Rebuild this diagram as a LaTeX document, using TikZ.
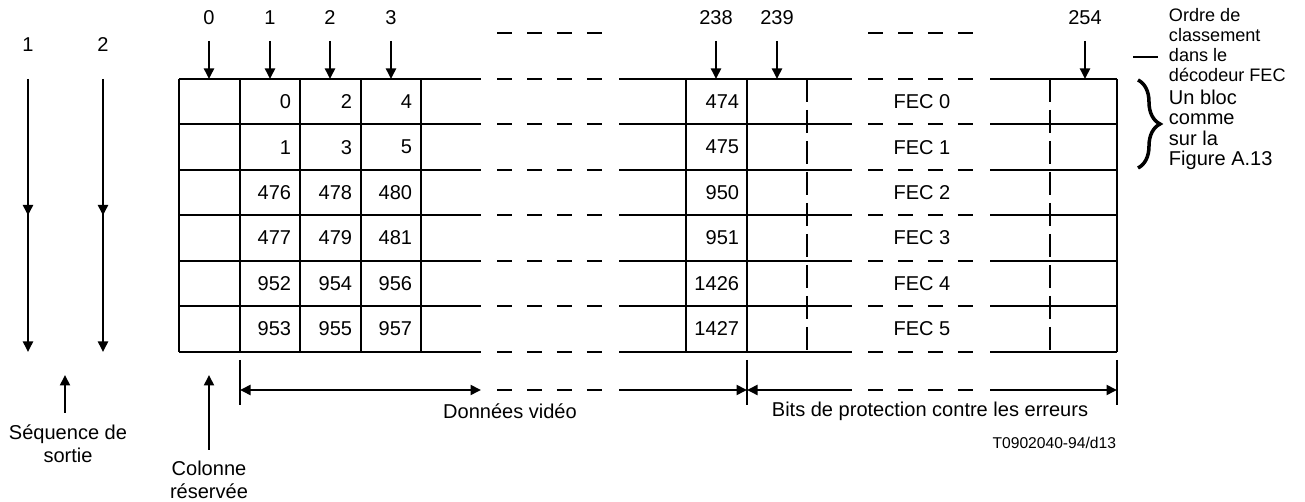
\documentclass[tikz,border=0pt]{standalone}
\usepackage{fontspec}
\setmainfont{Liberation Sans}
\usetikzlibrary{arrows.meta,positioning,decorations.markings,decorations.pathreplacing}
\tikzset{
  >={Triangle[length=2.1mm,width=2mm]},
  gapdash/.style={dash pattern=on 3mm off 3mm},
  coldash/.style={dash pattern=on 4.6mm off 1.6mm},
  lbl/.style={font=\fontsize{11.4}{13}\selectfont,inner sep=0pt},
  cellnum/.style={lbl,anchor=east},
  note/.style={font=\fontsize{10.3}{11.4}\selectfont,align=left,inner sep=0pt,anchor=west},
  code/.style={font=\fontsize{8.9}{10}\selectfont,inner sep=0pt,anchor=east},
  midarrow/.style={decoration={markings,mark=at position 0.5 with {\arrow{>}}},postaction={decorate}},
}
% one row line of the table, broken twice
\newcommand\brokenrow[1]{%
  \draw (179,#1) -- (481,#1);
  \draw[gapdash] (497,#1) -- (602,#1);
  \draw (619,#1) -- (852,#1);
  \draw[gapdash] (868,#1) -- (973,#1);
  \draw (990,#1) -- (1117,#1);
}

\begin{document}
\begin{tikzpicture}[x=0.02cm,y=-0.02cm,line width=1.1pt]
  \useasboundingbox (0,0) rectangle (1305,502);

  % table
  \foreach \k in {0,...,6} {
    \pgfmathsetmacro\yy{79+45.45*\k}
    \brokenrow{\yy}
  }
  \foreach \x in {179,240,300,361,421,686,747,1117}
    \draw (\x,79) -- (\x,351.7);
  \foreach \x in {807,1050}
    \draw[coldash] (\x,79) -- (\x,351.7);

  \foreach \a/\b/\c/\d [count=\r from 0] in {0/2/4/474,1/3/5/475,476/478/480/950,
      477/479/481/951,952/954/956/1426,953/955/957/1427} {
    \pgfmathsetmacro\yy{79+45.45*(\r+0.5)}
    \node[cellnum] (ca\r) at (292,\yy) {\a};
    \node[cellnum] (cb\r) at (353,\yy) {\b};
    \node[cellnum] (cc\r) at (413,\yy) {\c};
    \node[cellnum] (cd\r) at (740,\yy) {\d};
    \node[lbl] (fec\r) at (922,\yy) {FEC \r};
  }

  % column order arrows
  \foreach \lab/\x [count=\i] in {0/209,1/270,2/330,3/391,238/716,239/777,254/1085} {
    \node[lbl] (k\i) at (\x,18) {\lab};
    \coordinate (kup\i) at (\x,41);
    \coordinate (ktip\i) at (\x,79);
    \draw[->] (kup\i) -- (ktip\i);
  }
  \draw[gapdash] (497,33) -- (602,33);
  \draw[gapdash] (868,33) -- (973,33);

  % output sequence
  \foreach \lab/\x [count=\i] in {1/28,2/103} {
    \node[lbl] (s\i) at (\x,45) {\lab};
    \coordinate (stop\i) at (\x,79);
    \coordinate (sbot\i) at (\x,352);
    \draw[->,midarrow] (stop\i) -- (sbot\i);
  }
  \node[lbl,align=center] (seq) at (68,444) {Séquence de\\sortie};
  \coordinate (seqfoot) at (65,413);
  \coordinate (seqtip) at (65,375);
  \draw[->] (seqfoot) -- (seqtip);

  \node[lbl,align=center] (col) at (209,480) {Colonne\\réservée};
  \coordinate (colfoot) at (209,450);
  \coordinate (coltip) at (209,375);
  \draw[->] (colfoot) -- (coltip);

  % extents below the table
  \foreach \x [count=\i] in {240,747,1117} {
    \draw (\x,360) -- (\x,405);
    \coordinate (dm\i) at (\x,390);
  }
  \coordinate (dmv) at (481,390);
  \coordinate (dmb) at (852,390);
  \draw[<->] (dm1) -- (dmv);
  \draw[gapdash] (497,390) -- (602,390);
  \draw[->] (619,390) -- (dm2);
  \draw[<-] (dm2) -- (dmb);
  \draw[gapdash] (868,390) -- (973,390);
  \draw[->] (990,390) -- (dm3);
  \node[lbl] (video) at (510,411) {Données vidéo};
  \node[lbl] (prot) at (930,411) {Bits de protection contre les erreurs};
  \node[code] (ref) at (1117,443) {T0902040-94/d13};

  % notes on the right
  \node[note] (ordre) at (1168,45) {Ordre de\\classement\\dans le\\décodeur FEC};
  \coordinate (lead1) at (1133,57);
  \coordinate (lead2) at (1158,57);
  \draw (lead1) -- (lead2);
  \coordinate (br1) at (1138,80);
  \coordinate (br2) at (1138,168);
  \draw[decorate,decoration={brace,amplitude=4.4mm},line width=2pt] (br1) -- (br2);
  \node[note,font=\fontsize{11.4}{11.6}\selectfont] (bloc) at (1168,130) {Un bloc\\comme\\sur la\\Figure A.13};
\end{tikzpicture}
\end{document}
